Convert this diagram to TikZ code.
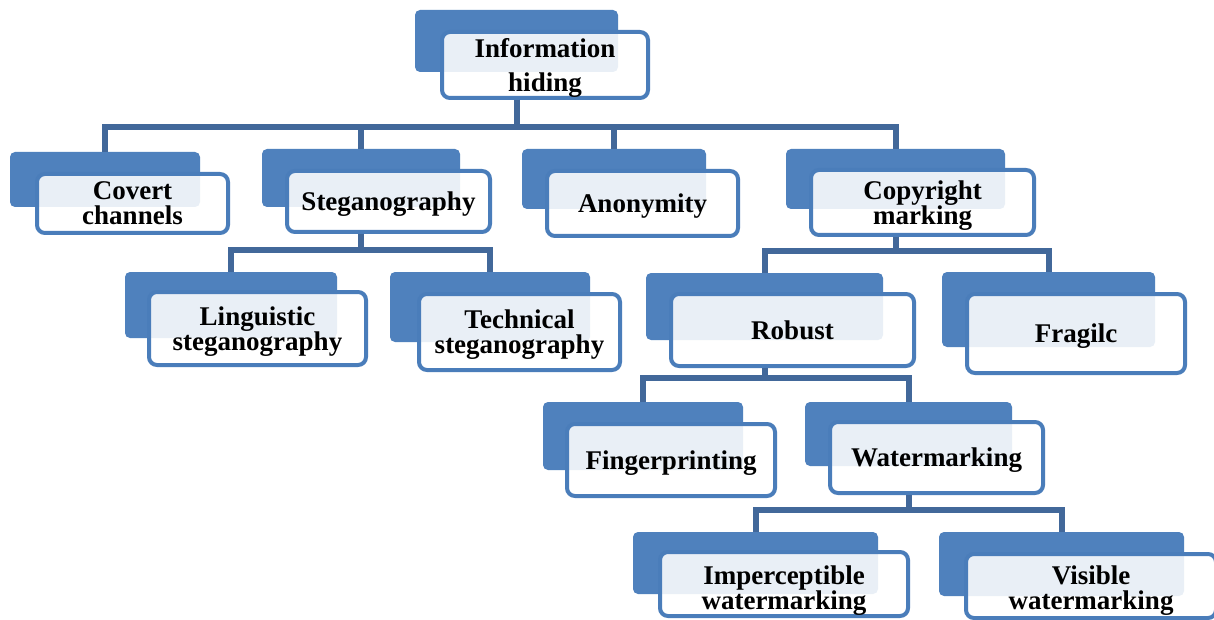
\documentclass[tikz,border=0pt]{standalone}
\usepackage{fontspec}
\setmainfont{Liberation Serif}
\usetikzlibrary{fit}

\definecolor{boxblue}{RGB}{79,129,189}
\definecolor{edgeblue}{RGB}{74,125,186}
\definecolor{linkblue}{RGB}{66,104,154}

\tikzset{
  backbox/.style={fill=boxblue, draw=none, rounded corners=5pt, inner sep=0pt},
  frontbox/.style={draw=edgeblue, line width=4pt, fill=white, fill opacity=0.88,
    rounded corners=8pt, inner sep=0pt},
  boxtext/.style={inner sep=0pt, align=center, text=black, yshift=-3pt,
    font=\bfseries\fontsize{27}{25}\selectfont},
  link/.style={draw=linkblue, line width=6pt, line join=miter, line cap=butt},
}

% #1 name, #2/#3 corners of the back plate, #4/#5 corners of the framed panel,
% #6 label text, #7 extra options for the label (shifts add up)
\newcommand\duobox[7]{%
  \node[backbox, fit={#2 #3}] (#1b) {};
  \node[frontbox, fit={#4 #5}] (#1f) {};
  \node[boxtext, #7] (#1t) at (#1f.center) {#6};
}

\begin{document}
\begin{tikzpicture}[x=1pt, y=-1pt]
  \useasboundingbox (0,0) rectangle (1214,620);
  \fill[white] (0,0) rectangle (1214,620);

  % level 0
  \duobox{info}{(415,10)}{(618,72)}{(442,32)}{(648,98)}{Information\\hiding}
    {font=\bfseries\fontsize{27}{34}\selectfont, yshift=0.5pt}
  % level 1
  \duobox{cov}{(10,152)}{(200,207)}{(37,174)}{(228,233)}{Covert\\channels}{yshift=3pt}
  \duobox{steg}{(262,149)}{(460,207)}{(287,171)}{(490,232)}{Steganography}{}
  \duobox{anon}{(522,149)}{(706,209)}{(547,171)}{(738,236)}{Anonymity}{}
  \duobox{copy}{(786,149)}{(1005,209)}{(811,170)}{(1034,235)}{Copyright\\marking}{}
  % level 2
  \duobox{ling}{(125,272)}{(337,338)}{(149,292)}{(366,365)}{Linguistic\\steganography}{}
  \duobox{tech}{(390,272)}{(590,342)}{(419,294)}{(620,370)}{Technical\\steganography}{}
  \duobox{rob}{(646,273)}{(883,340)}{(671,294)}{(914,366)}{Robust}{yshift=3pt}
  \duobox{frag}{(942,272)}{(1155,347)}{(967,294)}{(1185,373)}{Fragilc}{}
  % level 3
  \duobox{fing}{(543,402)}{(743,470)}{(567,424)}{(775,496)}{Fingerprinting}{}
  \duobox{wat}{(805,402)}{(1012,466)}{(830,422)}{(1043,493)}{Watermarking}{}
  % level 4
  \duobox{imp}{(633,532)}{(878,594)}{(660,552)}{(908,616)}{Imperceptible\\watermarking}{yshift=-4pt}
  \duobox{vis}{(939,532)}{(1184,596)}{(966,554)}{(1216,618)}{Visible\\watermarking}{yshift=-2pt}

  % heights of the horizontal rails
  \coordinate (railA) at (0,127.5);
  \coordinate (railB) at (0,250);
  \coordinate (railC) at (0,251);
  \coordinate (railD) at (0,378);
  \coordinate (railE) at (0,510);

  % connectors
  \foreach \c in {cov,steg,anon,copy}
    \draw[link] (infof.south -| infob) -- (infob |- railA) -| (\c b.north);
  \foreach \c in {ling,tech}
    \draw[link] (stegf.south -| stegb) -- (stegb |- railB) -| (\c b.north);
  \foreach \c in {rob,frag}
    \draw[link] (copyf.south -| copyb) -- (copyb |- railC) -| (\c b.north);
  \foreach \c in {fing,wat}
    \draw[link] (robf.south -| robb) -- (robb |- railD) -| (\c b.north);
  \foreach \c in {imp,vis}
    \draw[link] (watf.south -| watb) -- (watb |- railE) -| (\c b.north);
\end{tikzpicture}
\end{document}
